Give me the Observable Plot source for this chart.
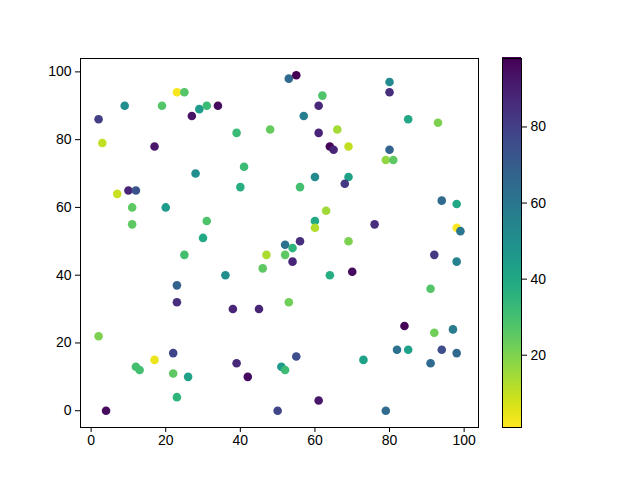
<!DOCTYPE html>
<html><head><meta charset="utf-8">
<script src="https://cdn.jsdelivr.net/npm/d3@7"></script>
<script src="https://cdn.jsdelivr.net/npm/@observablehq/plot@0.6"></script>
<style>body{margin:0;background:#fff}#chart{position:relative;width:640px;height:480px}#chart svg{position:absolute;left:0;top:0}
#chart svg, #chart svg text{font-family:"Liberation Sans",Arial,sans-serif !important;font-size:14px !important;fill:#000}</style>
</head><body><div id="chart"></div>
<script>
const xs = [23,25,9,19,29,31,34,27,2,39,48,3,17,28,41,7,10,12,40,11,20,31,11,30,
  53,55,80,80,62,61,57,85,93,61,66,64,65,69,80,79,81,60,69,68,56,94,98,63,60,60,76,98,99,
  52,56,69,54,52,54,25,47,46,36,23,23,38,45,2,22,17,12,13,22,26,39,42,23,4,50,51,52,
  64,70,92,98,91,53,84,92,97,82,85,94,98,91,55,73,61,79];
const ys = [94,94,90,90,89,90,90,87,86,82,83,79,78,70,72,64,65,65,66,60,60,56,55,51,
  98,99,97,94,93,90,87,86,85,82,83,78,77,78,77,74,74,69,69,67,66,62,61,59,56,54,55,54,53,
  49,50,50,48,46,44,46,46,42,40,37,32,30,30,22,17,15,13,12,11,10,14,10,4,0,0,13,12,
  40,41,46,44,36,32,25,23,24,18,18,18,17,14,16,15,3,0];
const cs = [2,27,50,27,45,32,95,93,80,32,24,10,92,50,32,9,88,73,37,25,45,28,25,40,
  65,98,52,85,28,87,57,40,20,88,14,97,88,10,68,17,25,52,43,82,30,65,40,15,40,12,85,1,60,
  62,85,20,35,25,88,30,13,25,50,68,85,88,88,20,78,4,30,30,25,42,87,95,35,95,78,45,32,
  38,95,82,55,27,22,97,22,58,62,42,75,65,65,75,42,92,65];
const xTicks = [0,20,40,60,80,100];
const yTicks = [0,20,40,60,80,100];
const cTicks = [20,40,60,80];

const points = xs.map((x,i)=>({x, y: ys[i], c: cs[i]}));
function pad(ext){const m=(ext[1]-ext[0])*0.05;return [ext[0]-m, ext[1]+m];}
const cExt = d3.extent(cs);
const colorOpts = () => ({type:"linear", scheme:"viridis", reverse:true, domain:cExt});
const FS = 14;
const style = {fontFamily:"'Liberation Sans', Arial, sans-serif", fontSize:FS+"px", color:"black", background:"transparent", overflow:"visible"};

const main = Plot.plot({
  width:640, height:480, marginLeft:80, marginRight:162, marginTop:58, marginBottom:53, style,
  x:{domain:pad(d3.extent(xs))}, y:{domain:pad(d3.extent(ys))}, color:colorOpts(),
  marks:[
    Plot.dot(points,{x:"x", y:"y", fill:"c", r:4.3}),
    Plot.frame({stroke:"black", strokeWidth:1}),
    Plot.axisX({ticks:xTicks, tickSize:5, tickPadding:3, fontSize:FS, label:null}),
    Plot.axisY({ticks:yTicks, tickSize:5, tickPadding:4, fontSize:FS, label:null})
  ]
});

const N = 256;
const dv = (cExt[1]-cExt[0])/N;
const steps = d3.range(N).map(i => cExt[0] + dv*i);
const bar = Plot.plot({
  width:640, height:480, marginLeft:502, marginRight:119, marginTop:58, marginBottom:53, style,
  x:{domain:[0,1], axis:null}, y:{domain:cExt}, color:colorOpts(),
  marks:[
    Plot.rect(steps,{x1:0, x2:1, y1:d=>d, y2:d=>d+dv*1.6, fill:d=>d+dv/2, shapeRendering:"crispEdges"}),
    Plot.frame({stroke:"black", strokeWidth:1}),
    Plot.axisY({anchor:"right", ticks:cTicks, tickSize:5, tickPadding:4, fontSize:FS, label:null})
  ]
});
document.getElementById("chart").append(main, bar);
</script></body></html>
